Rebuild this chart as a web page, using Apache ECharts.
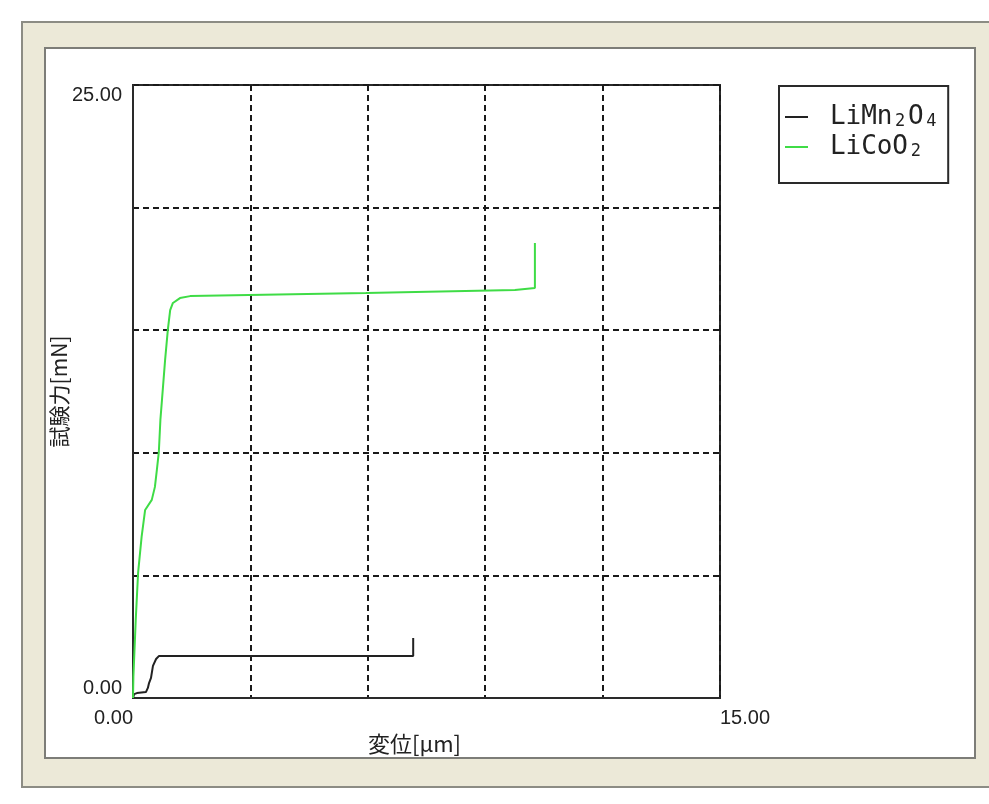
<!DOCTYPE html>
<html>
<head>
<meta charset="utf-8">
<title>試験力-変位</title>
<script src="https://cdn.jsdelivr.net/npm/echarts@6/dist/echarts.min.js"></script>
<style>
  html, body { margin: 0; padding: 0; background: #ffffff; }
  #chart { width: 989px; height: 804px; }
</style>
</head>
<body>
<div id="chart"></div>
<script>
// Displacement [µm] vs. test force [mN]
const seriesNames = ['LiMn2O4', 'LiCoO2'];

const limn2o4Disp  = [0, 0.03, 0.10, 0.33, 0.38, 0.41, 0.46, 0.51, 0.59, 0.66, 7.16, 7.16];
const limn2o4Force = [0, 0.16, 0.20, 0.24, 0.41, 0.61, 0.82, 1.31, 1.59, 1.71, 1.71, 2.45];

const licoo2Disp  = [0, 0.01, 0.07, 0.13, 0.22, 0.31, 0.48, 0.56, 0.61, 0.66, 0.70, 0.74, 0.82, 0.89, 0.95, 1.02, 1.20, 1.46, 5.95, 9.76, 9.76, 10.27, 10.27];
const licoo2Force = [0, 0.86, 3.18, 5.10, 6.57, 7.67, 8.08, 8.61, 9.30, 10.03, 11.34, 12.15, 13.78, 15.01, 15.82, 16.11, 16.31, 16.39, 16.52, 16.64, 16.72, 16.72, 18.56];

const xRange = [0, 15];
const yRange = [0, 25];
const xTickStep = 3;
const yTickStep = 5;
const xTitle = '変位[μm]';
const yTitle = '試験力[mN]';

const pairs = (xs, ys) => xs.map((x, i) => [x, ys[i]]);

const numFont = '"Liberation Sans", Arial, sans-serif';
const monoFont = '"DejaVu Sans Mono", "Liberation Mono", monospace';
const cjk = '"Noto Sans CJK JP", sans-serif';

// legend labels: one glyph per fixed-width cell, digits as subscripts
function legendLabel(name) {
  let out = '';
  let first = true;
  for (const ch of name) {
    const isDigit = /[0-9]/.test(ch);
    const key = isDigit ? (first ? 'sf' : 's') : (first ? 'cf' : 'c');
    out += '{' + key + '|' + ch + '}';
    first = false;
  }
  return out;
}

const cell = { width: 15.6, align: 'center', fontFamily: monoFont, fontSize: 26, lineHeight: 30, color: '#222', verticalAlign: 'middle' };
const sub  = { width: 15.6, align: 'center', fontFamily: monoFont, fontSize: 17, lineHeight: 30, color: '#222', verticalAlign: 'middle', padding: [9, 0, 0, 0] };

const chart = echarts.init(document.getElementById('chart'), null, { renderer: 'canvas' });

chart.setOption({
  animation: false,
  backgroundColor: '#ffffff',
  graphic: [
    // window frame
    { type: 'rect', z: -10, silent: true,
      shape: { x: 22, y: 22, width: 980, height: 765 },
      style: { fill: '#ece9d8', stroke: '#8c8c84', lineWidth: 2 } },
    // chart panel
    { type: 'rect', z: -9, silent: true,
      shape: { x: 45, y: 48, width: 930, height: 710 },
      style: { fill: '#ffffff', stroke: '#7d7d78', lineWidth: 2 } }
  ],
  grid: {
    left: 133, top: 85, width: 587, height: 613,
    show: true, borderColor: '#2a2a2a', borderWidth: 2, backgroundColor: 'transparent'
  },
  legend: {
    orient: 'vertical',
    left: 779, top: 86,
    padding: [18, 9, 23, 6],
    itemGap: 4,
    itemWidth: 23, itemHeight: 2,
    icon: 'rect',
    borderColor: '#2a2a2a', borderWidth: 2,
    backgroundColor: '#ffffff',
    formatter: legendLabel,
    textStyle: {
      rich: {
        c: cell,
        cf: Object.assign({}, cell, { padding: [0, 0, 0, 17] }),
        s: sub,
        sf: Object.assign({}, sub, { padding: [9, 0, 0, 17] })
      }
    },
    data: seriesNames
  },
  xAxis: {
    type: 'value',
    min: xRange[0], max: xRange[1], interval: xTickStep,
    name: xTitle,
    nameLocation: 'middle',
    nameGap: 35,
    nameMoveOverlap: false,
    nameTextStyle: { fontFamily: cjk, fontSize: 22, color: '#222', padding: [0, 24, 0, 0] },
    axisLine: { show: true, lineStyle: { color: '#2a2a2a', width: 2 } },
    axisTick: { show: false },
    axisLabel: {
      margin: 10,
      fontFamily: numFont, fontSize: 20, color: '#222',
      showMinLabel: true, showMaxLabel: true,
      alignMinLabel: 'right', alignMaxLabel: 'left',
      formatter: v => (v === xRange[0] || v === xRange[1]) ? v.toFixed(2) : ''
    },
    splitLine: { show: true, lineStyle: { color: '#1a1a1a', width: 2, type: [6, 4] } }
  },
  yAxis: {
    type: 'value',
    min: yRange[0], max: yRange[1], interval: yTickStep,
    name: yTitle,
    nameLocation: 'middle',
    nameGap: 63,
    nameMoveOverlap: false,
    nameTextStyle: { fontFamily: cjk, fontSize: 21, color: '#222' },
    axisLine: { show: true, lineStyle: { color: '#2a2a2a', width: 2 } },
    axisTick: { show: false },
    axisLabel: {
      margin: 11,
      fontFamily: numFont, fontSize: 20, color: '#222',
      showMinLabel: true, showMaxLabel: true,
      verticalAlignMinLabel: 'bottom', verticalAlignMaxLabel: 'top',
      formatter: v => (v === yRange[0] || v === yRange[1]) ? v.toFixed(2) : ''
    },
    splitLine: { show: true, lineStyle: { color: '#1a1a1a', width: 2, type: [6, 4] } }
  },
  series: [
    {
      name: seriesNames[0], type: 'line', data: pairs(limn2o4Disp, limn2o4Force),
      showSymbol: false, symbol: 'none',
      lineStyle: { color: '#222222', width: 2 }, itemStyle: { color: '#222222' }, z: 3
    },
    {
      name: seriesNames[1], type: 'line', data: pairs(licoo2Disp, licoo2Force),
      showSymbol: false, symbol: 'none',
      lineStyle: { color: '#3fdc46', width: 2 }, itemStyle: { color: '#3fdc46' }, z: 4
    }
  ]
});
</script>
</body>
</html>
